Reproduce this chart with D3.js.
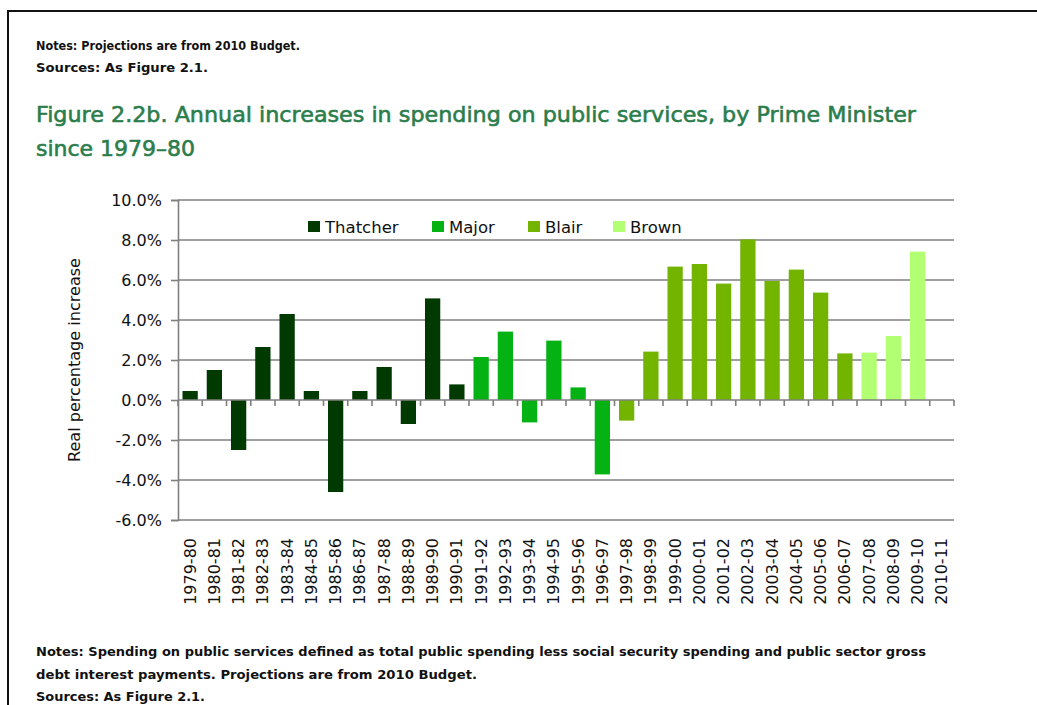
<!DOCTYPE html>
<html>
<head>
<meta charset="utf-8">
<script src="https://cdn.jsdelivr.net/npm/d3@7"></script>
<style>
  body { margin: 0; background: #fff; }
  text { font-family: "DejaVu Sans", sans-serif; }
</style>
</head>
<body>
<div id="chart"></div>
<script>
// data
var years = ["1979-80", "1980-81", "1981-82", "1982-83", "1983-84", "1984-85", "1985-86", "1986-87",
  "1987-88", "1988-89", "1989-90", "1990-91", "1991-92", "1992-93", "1993-94", "1994-95",
  "1995-96", "1996-97", "1997-98", "1998-99", "1999-00", "2000-01", "2001-02", "2002-03",
  "2003-04", "2004-05", "2005-06", "2006-07", "2007-08", "2008-09", "2009-10", "2010-11"];
var increases = [0.45, 1.5, -2.5, 2.65, 4.3, 0.45, -4.6, 0.45,
  1.65, -1.2, 5.08, 0.78, 2.15, 3.42, -1.12, 2.97,
  0.63, -3.72, -1.03, 2.42, 6.67, 6.8, 5.82, 8.03,
  5.95, 6.52, 5.37, 2.33, 2.37, 3.2, 7.42, 0];
var primeMinister = ["Thatcher", "Thatcher", "Thatcher", "Thatcher", "Thatcher", "Thatcher", "Thatcher", "Thatcher",
  "Thatcher", "Thatcher", "Thatcher", "Thatcher", "Major", "Major", "Major", "Major",
  "Major", "Major", "Blair", "Blair", "Blair", "Blair", "Blair", "Blair",
  "Blair", "Blair", "Blair", "Blair", "Brown", "Brown", "Brown", "Brown"];
var ministers = ["Thatcher", "Major", "Blair", "Brown"];
var yTicks = [-6, -4, -2, 0, 2, 4, 6, 8, 10];

var width = 1037;
var height = 705;

var color = d3.scaleOrdinal()
  .domain(ministers)
  .range(["#003a00", "#05b214", "#72b400", "#b2ff74"]);

var svg = d3.select('#chart')
  .append('svg')
  .attr('width', width)
  .attr('height', height);

// page frame (open on the right and bottom)
svg.append('path')
  .attr('d', 'M8,' + (height + 5) + 'V11H' + (width + 5))
  .attr('fill', 'none')
  .attr('stroke', '#111')
  .attr('stroke-width', 2);

// top notes
svg.append('text').attr('x', 36).attr('y', 50)
  .attr('font-size', 12).attr('font-weight', 'bold').attr('fill', '#111')
  .attr('textLength', 264).attr('lengthAdjust', 'spacingAndGlyphs')
  .text('Notes: Projections are from 2010 Budget.');
svg.append('text').attr('x', 36).attr('y', 72)
  .attr('font-size', 12).attr('font-weight', 'bold').attr('fill', '#111')
  .attr('textLength', 172).attr('lengthAdjust', 'spacingAndGlyphs')
  .text('Sources: As Figure 2.1.');

// title (medium weight: regular face with a thin outline)
svg.append('text').attr('x', 36).attr('y', 122)
  .attr('font-size', 22).attr('fill', '#2b7d4c')
  .attr('stroke', '#2b7d4c').attr('stroke-width', 0.6)
  .attr('textLength', 880).attr('lengthAdjust', 'spacingAndGlyphs')
  .text('Figure 2.2b. Annual increases in spending on public services, by Prime Minister');
svg.append('text').attr('x', 36).attr('y', 156)
  .attr('font-size', 22).attr('fill', '#2b7d4c')
  .attr('stroke', '#2b7d4c').attr('stroke-width', 0.6)
  .attr('textLength', 159).attr('lengthAdjust', 'spacingAndGlyphs')
  .text('since 1979\u201380');

// scales
var x = d3.scaleBand()
  .domain(years)
  .range([178, 954])
  .paddingInner(0.37)
  .paddingOuter(0.185);

var y = d3.scaleLinear()
  .domain([-6, 10])
  .range([520, 200]);

// gridlines
svg.append('g')
  .selectAll('line')
  .data(yTicks.filter(function(d) { return d !== 0; }))
  .enter()
  .append('line')
  .attr('x1', 178)
  .attr('x2', 954)
  .attr('y1', function(d) { return y(d); })
  .attr('y2', function(d) { return y(d); })
  .attr('stroke', '#7f7f7f')
  .attr('stroke-width', 1.6);

// y axis
var yAxis = svg.append('g')
  .attr('transform', 'translate(178,0)')
  .call(d3.axisLeft(y).tickValues(yTicks).tickSize(7).tickPadding(9)
    .tickFormat(function(d) { return d.toFixed(1) + '%'; }));
yAxis.select('.domain').attr('stroke', '#7f7f7f').attr('stroke-width', 1.6);
yAxis.selectAll('.tick line').attr('stroke', '#7f7f7f').attr('stroke-width', 1.6);
yAxis.selectAll('.tick text')
  .attr('font-family', '"DejaVu Sans", sans-serif')
  .attr('font-size', 16).attr('fill', '#111');

// y axis label
svg.append('text')
  .attr('transform', 'translate(80,360) rotate(-90)')
  .attr('text-anchor', 'middle')
  .attr('font-size', 15).attr('fill', '#111')
  .attr('textLength', 204).attr('lengthAdjust', 'spacingAndGlyphs')
  .text('Real percentage increase');

// bars
svg.append('g')
  .selectAll('rect')
  .data(increases)
  .enter()
  .append('rect')
  .attr('x', function(d, i) { return x(years[i]); })
  .attr('width', x.bandwidth())
  .attr('y', function(d) { return y(Math.max(0, d)); })
  .attr('height', function(d) { return Math.abs(y(d) - y(0)); })
  .attr('fill', function(d, i) { return color(primeMinister[i]); });

// x axis at zero with ticks on category boundaries
svg.append('line')
  .attr('x1', 178).attr('x2', 954)
  .attr('y1', y(0)).attr('y2', y(0))
  .attr('stroke', '#7f7f7f').attr('stroke-width', 1.6);

var step = x.step();
svg.append('g')
  .selectAll('line')
  .data(d3.range(years.length + 1))
  .enter()
  .append('line')
  .attr('x1', function(d) { return 178 + d * step; })
  .attr('x2', function(d) { return 178 + d * step; })
  .attr('y1', y(0))
  .attr('y2', y(0) + 6)
  .attr('stroke', '#7f7f7f')
  .attr('stroke-width', 1.6);

// category labels
svg.append('g')
  .selectAll('text')
  .data(years)
  .enter()
  .append('text')
  .attr('transform', function(d) {
    return 'translate(' + (x(d) + x.bandwidth() / 2 + 5.5) + ',538) rotate(-90)';
  })
  .attr('text-anchor', 'end')
  .attr('font-size', 16)
  .attr('fill', '#111')
  .text(function(d) { return d; });

// legend
var legendX = [308, 432, 528, 613];
var legend = svg.selectAll('.legend')
  .data(ministers)
  .enter()
  .append('g')
  .attr('class', 'legend')
  .attr('transform', function(d, i) { return 'translate(' + legendX[i] + ',221)'; });

legend.append('rect')
  .attr('width', 12)
  .attr('height', 11)
  .style('fill', color);

legend.append('text')
  .attr('x', 17)
  .attr('y', 12)
  .attr('font-size', 16.5)
  .attr('fill', '#111')
  .text(function(d) { return d; });

// bottom notes
var notes = [
  'Notes: Spending on public services defined as total public spending less social security spending and public sector gross',
  'debt interest payments. Projections are from 2010 Budget.',
  'Sources: As Figure 2.1.'
];
var notesWidth = [890, 441, 169];
svg.append('g')
  .selectAll('text')
  .data(notes)
  .enter()
  .append('text')
  .attr('x', 36)
  .attr('y', function(d, i) { return 656 + i * 22.5; })
  .attr('font-size', 12)
  .attr('font-weight', 'bold')
  .attr('fill', '#111')
  .attr('textLength', function(d, i) { return notesWidth[i]; })
  .attr('lengthAdjust', 'spacingAndGlyphs')
  .text(function(d) { return d; });
</script>
</body>
</html>
